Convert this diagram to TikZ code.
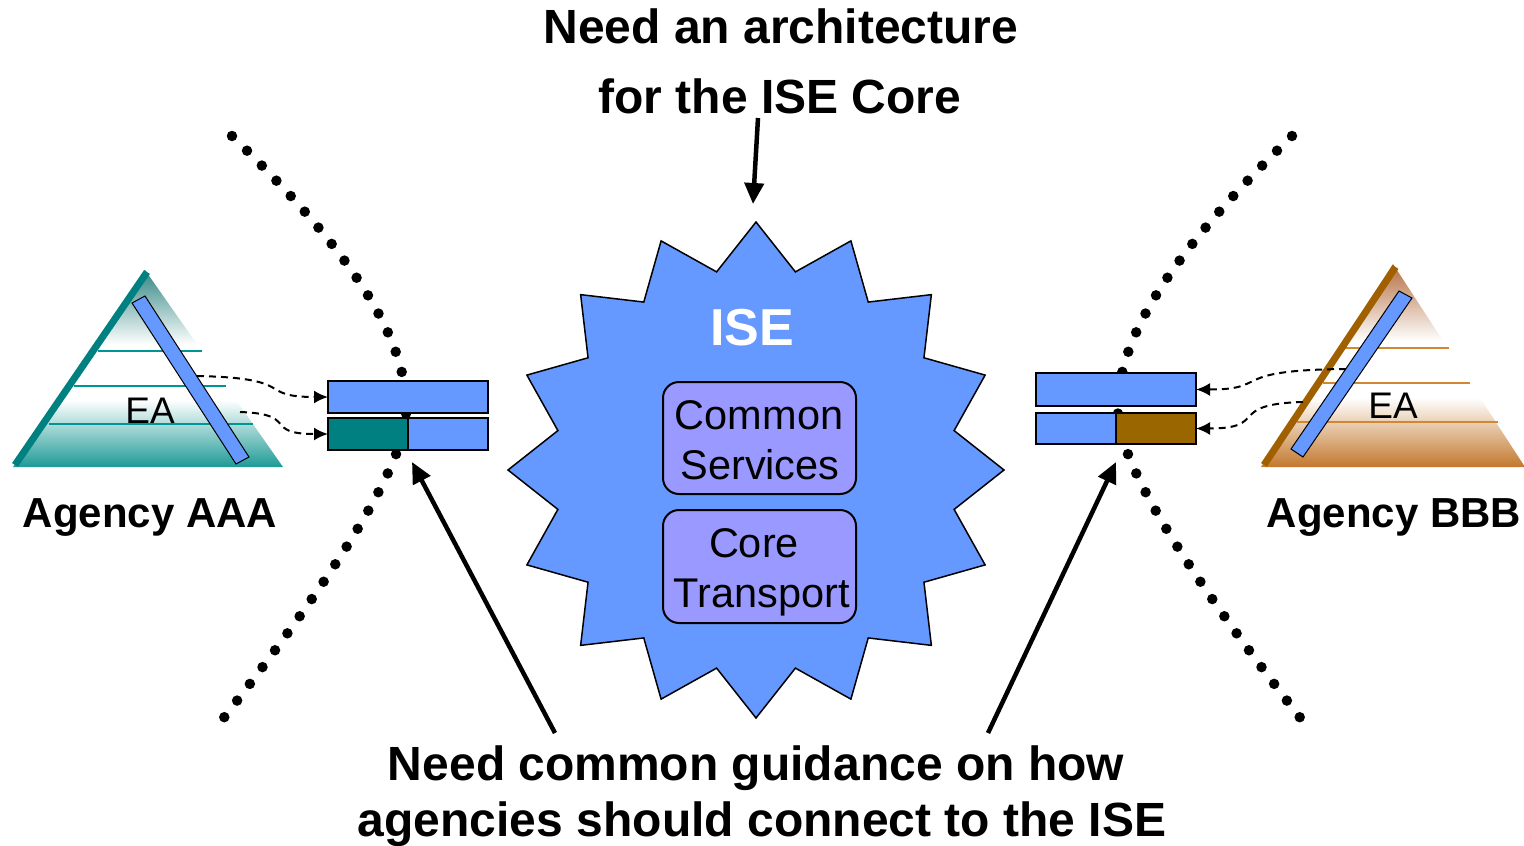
\documentclass[tikz,border=0pt]{standalone}
\usepackage{fontspec}
\setmainfont{Liberation Sans}
\usetikzlibrary{arrows.meta}
\definecolor{iseblue}{HTML}{6699FF}
\definecolor{boxviolet}{HTML}{9999FF}
\definecolor{tealbar}{HTML}{008080}
\definecolor{brownbar}{HTML}{996600}
\definecolor{tealtop}{RGB}{50,135,132}
\definecolor{tealbot}{RGB}{30,155,150}
\definecolor{browntop}{RGB}{180,110,65}
\definecolor{brownbot}{RGB}{195,120,45}
\definecolor{tealline}{RGB}{0,150,150}
\definecolor{brownline}{RGB}{210,135,50}
\definecolor{brownstrip}{RGB}{160,96,0}
\pgfdeclareverticalshading{tealpyr}{100bp}{color(0bp)=(tealbot); color(25bp)=(tealbot); color(42bp)=(white); color(56bp)=(white); color(75bp)=(tealtop); color(100bp)=(tealtop)}
\pgfdeclareverticalshading{brownpyr}{100bp}{color(0bp)=(brownbot); color(25bp)=(brownbot); color(42bp)=(white); color(56bp)=(white); color(75bp)=(browntop); color(100bp)=(browntop)}
\begin{document}
\begin{tikzpicture}[x=1pt,y=-1pt,
  dotline/.style={line width=10.5pt, line cap=round, dash pattern=on 0pt off 21pt},
  barbox/.style={draw=black, line width=2pt, minimum height=32pt, inner sep=0pt, outer sep=0pt},
  svcbox/.style={draw=black, line width=2pt, fill=boxviolet, rounded corners=16pt, minimum width=193pt, minimum height=112pt, inner sep=0pt},
  eabar/.style={fill=iseblue, draw=black, line width=1pt},
  dasharrow/.style={dash pattern=on 7pt off 5pt, line width=2pt, -{Latex[length=14pt,width=13pt]}},
  bigarrow/.style={line width=4.5pt, -{Triangle[length=21pt,width=19pt]}},
  bigtext/.style={font=\fontsize{48}{58}\selectfont\bfseries, anchor=base, inner sep=0pt},
  agtext/.style={font=\fontsize{42}{50}\selectfont\bfseries, anchor=base, inner sep=0pt},
  boxtext/.style={font=\fontsize{41.5}{50}\selectfont, anchor=base, inner sep=0pt},
  eatext/.style={font=\fontsize{37}{44}\selectfont, anchor=base, inner sep=0pt}]
\useasboundingbox (0,0) rectangle (1524,846);
\fill[white] (0,0) rectangle (1524,846);

% dotted boundaries
\draw[dotline] (232,136) .. controls (350,250) and (410,340) .. (406,415)
  .. controls (402,480) and (300,620) .. (219,724);
\draw[dotline] (1292,136) .. controls (1174,250) and (1114,340) .. (1118,415)
  .. controls (1122,480) and (1224,620) .. (1305,724);

% left pyramid
\shade[shading=tealpyr] (145,270) -- (283,467) -- (13,467) -- cycle;
\draw[tealline, line width=1.2pt] (98,351) -- (202,351) (74,386) -- (226,386) (49,424) -- (253,424);
\draw[tealbar, line width=7pt] (147,272) -- (15,465);
\node[eatext] (ea1) at (150,423) {EA};
\draw[eabar] (132,303) -- (145,296) -- (249,457) -- (236,464) -- cycle;

% right pyramid
\shade[shading=brownpyr] (1393,264) -- (1525,467) -- (1261,467) -- cycle;
\draw[brownline, line width=1.2pt] (1345,348) -- (1449,348) (1323,383) -- (1470,383) (1297,422) -- (1498,422);
\draw[brownstrip, line width=7pt] (1395.5,267) -- (1264,465);
\node[eatext] (ea2) at (1393,418) {EA};
\draw[eabar] (1399,291) -- (1412,298) -- (1303,457) -- (1291,449) -- cycle;

% interface bars
\node[barbox, fill=iseblue, minimum width=160pt] (lbt) at (408,397) {};
\node[barbox, fill=tealbar, minimum width=80pt] (lbl) at (368,434) {};
\node[barbox, fill=iseblue, minimum width=80pt] (lbr) at (448,434) {};
\node[barbox, fill=iseblue, minimum width=160pt, minimum height=33pt] (rbt) at (1116,389.5) {};
\node[barbox, fill=iseblue, minimum width=80pt, minimum height=31pt] (rbl) at (1076,428.5) {};
\node[barbox, fill=brownbar, minimum width=80pt, minimum height=31pt] (rbr) at (1156,428.5) {};

% dashed connectors
\coordinate (la1) at (197,376);
\coordinate (la2) at (240,412);
\coordinate (ra1) at (1346,369);
\coordinate (ra2) at (1303,402);
\draw[dasharrow] (la1) .. controls (300,378) and (255,397) .. (lbt.west);
\draw[dasharrow] (la2) .. controls (300,414) and (262,434) .. (lbl.west);
\draw[dasharrow] (ra1) .. controls (1225,370) and (1272,389.5) .. (rbt.east);
\draw[dasharrow] (ra2) .. controls (1225,404) and (1270,428.5) .. (rbr.east);

% ISE starburst
\coordinate (isec) at (756,470);
\filldraw[fill=iseblue, draw=black, line width=1.5pt] (756,222)
  \foreach \i in {0,...,15} {
    -- ({756+202*sin(22.5*\i+11.25)},{470-202*cos(22.5*\i+11.25)})
    -- ({756+248*sin(22.5*\i+22.5)},{470-248*cos(22.5*\i+22.5)})
  } -- cycle;
\node[font=\fontsize{52}{62}\selectfont\bfseries, text=white, anchor=base, inner sep=0pt] (iselbl) at (752,345) {ISE};
\node[svcbox] (cs) at (759.5,438) {};
\node[svcbox, minimum height=113pt] (ct) at (759.5,566.5) {};
\node[boxtext] (cs1) at (759,429) {Common};
\node[boxtext] (cs2) at (760,479) {Services};
\node[boxtext] (ct1) at (754,557) {Core};
\node[boxtext] (ct2) at (762,607) {Transport};

% texts
\node[bigtext] (t1) at (781,43) {Need an architecture};
\node[bigtext] (t2) at (780,113) {for the ISE Core};
\node[bigtext] (b1) at (756,780) {Need common guidance on how};
\node[bigtext] (b2) at (762,836) {agencies should connect to the ISE};
\node[agtext] (aga) at (150,527) {Agency AAA};
\node[agtext] (agb) at (1394,527) {Agency BBB};

% black arrows
\coordinate (ta0) at (758,118);
\coordinate (ta1) at (753,204);
\coordinate (ba0) at (555,733);
\coordinate (ba1) at (412,462);
\coordinate (bb0) at (988,733);
\coordinate (bb1) at (1116,462);
\draw[bigarrow] (ta0) -- (ta1);
\draw[bigarrow] (ba0) -- (ba1);
\draw[bigarrow] (bb0) -- (bb1);
\end{tikzpicture}
\end{document}
